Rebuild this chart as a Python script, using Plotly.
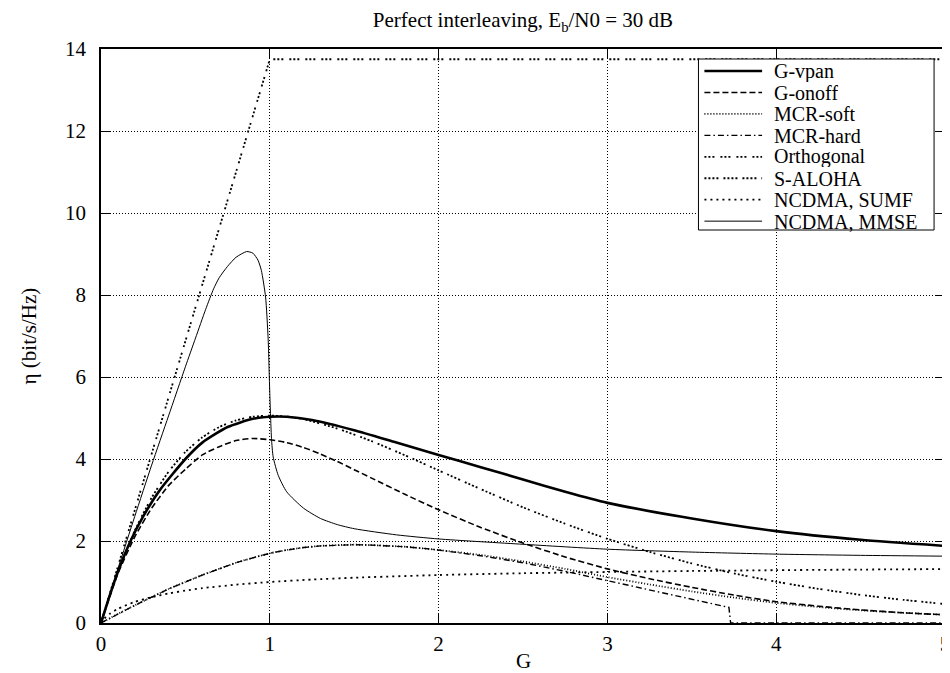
import plotly.graph_objects as go

# ---------------- data ----------------
g_vpan_x = [0, 0.05, 0.1, 0.175, 0.25, 0.35, 0.5, 0.6, 0.75, 0.9, 1.0, 1.1, 1.25, 1.5, 1.75, 2.0,
            2.25, 2.5, 2.75, 3.0, 3.5, 4.0, 4.5, 5.0]
g_vpan_y = [0, 0.65, 1.25, 2.0, 2.6, 3.25, 4.0, 4.4, 4.78, 4.98, 5.03, 5.03, 4.95, 4.7, 4.4, 4.1,
            3.8, 3.5, 3.2, 2.93, 2.55, 2.24, 2.03, 1.88]

g_onoff_x = [0, 0.1, 0.2, 0.3, 0.4, 0.5, 0.6, 0.7, 0.8, 0.9, 1.0, 1.1, 1.2, 1.3, 1.4, 1.5, 1.6,
             1.8, 2.0, 2.25, 2.5, 2.75, 3.0, 3.25, 3.5, 3.75, 4.0, 4.25, 4.5, 4.75, 5.0]
g_onoff_y = [0, 1.2, 2.1, 2.8, 3.35, 3.75, 4.1, 4.3, 4.45, 4.5, 4.47, 4.4, 4.28, 4.12, 3.94,
             3.74, 3.54, 3.14, 2.76, 2.33, 1.95, 1.61, 1.32, 1.08, 0.87, 0.68, 0.52, 0.41, 0.32,
             0.25, 0.2]

mcr_soft_x = [0, 0.1, 0.2, 0.3, 0.4, 0.5, 0.6, 0.7, 0.8, 0.9, 1.0, 1.1, 1.2, 1.3, 1.4, 1.5, 1.6,
              1.8, 2.0, 2.25, 2.5, 2.75, 3.0, 3.25, 3.5, 3.75, 4.0, 4.25, 4.5, 4.75, 5.0]
mcr_soft_y = [0, 0.22, 0.43, 0.63, 0.83, 1.0, 1.17, 1.32, 1.47, 1.59, 1.7, 1.78, 1.84, 1.88, 1.9,
              1.91, 1.9, 1.86, 1.78, 1.66, 1.5, 1.32, 1.12, 0.94, 0.77, 0.62, 0.49, 0.39, 0.31,
              0.25, 0.2]

mcr_hard_x = [0, 0.1, 0.2, 0.3, 0.4, 0.5, 0.6, 0.7, 0.8, 0.9, 1.0, 1.1, 1.2, 1.3, 1.4, 1.5, 1.6,
              1.7, 1.8, 1.9, 2.0, 2.25, 2.5, 2.75, 3.0, 3.25, 3.5, 3.72, 3.73, 4.0, 5.0]
mcr_hard_y = [0, 0.22, 0.43, 0.63, 0.83, 1.0, 1.17, 1.32, 1.47, 1.59, 1.7, 1.78, 1.84, 1.88, 1.9,
              1.91, 1.9, 1.885, 1.86, 1.825, 1.78, 1.64, 1.47, 1.26, 1.03, 0.8, 0.58, 0.38, 0.0,
              0.0, 0.0]

orth_x = [0, 1.0, 5.0]
orth_y = [0, 13.75, 13.75]

aloha_x = [0, 0.05, 0.1, 0.2, 0.3, 0.4, 0.5, 0.6, 0.7, 0.8, 0.9, 1.0, 1.1, 1.2, 1.4, 1.6, 1.8, 2.0,
           2.25, 2.5, 2.75, 3.0, 3.25, 3.5, 3.75, 4.0, 4.25, 4.5, 4.75, 5.0]
aloha_y = [0, 0.654, 1.244, 2.252, 3.056, 3.687, 4.17, 4.528, 4.78, 4.942, 5.031, 5.058, 5.036,
           4.97, 4.743, 4.441, 4.092, 3.722, 3.265, 2.822, 2.42, 2.053, 1.734, 1.453, 1.209,
           1.007, 0.833, 0.687, 0.566, 0.463]

sumf_x = [0, 0.02, 0.05, 0.1, 0.2, 0.3, 0.4, 0.5, 0.6, 0.8, 1.0, 1.25, 1.5, 2.0, 2.5, 3.0, 3.5,
          4.0, 4.5, 5.0]
sumf_y = [0, 0.11, 0.22, 0.345, 0.515, 0.63, 0.72, 0.79, 0.85, 0.935, 1.0, 1.06, 1.105, 1.17,
          1.214, 1.245, 1.269, 1.288, 1.303, 1.315]

mmse_x = [0, 0.1, 0.2, 0.3, 0.4, 0.5, 0.56, 0.62, 0.667, 0.7, 0.75, 0.8, 0.863, 0.9, 0.93, 0.95,
          0.975, 0.99, 1.0, 1.01, 1.02, 1.05, 1.1, 1.2, 1.3, 1.4, 1.5, 1.75, 2.0, 2.5, 3.0, 3.5,
          4.0, 4.5, 5.0]
mmse_y = [0, 1.32, 2.6, 3.85, 5.05, 6.25, 6.95, 7.65, 8.15, 8.42, 8.7, 8.92, 9.06, 9.02, 8.85,
          8.6, 7.95, 6.95, 5.6, 4.5, 4.05, 3.6, 3.2, 2.8, 2.55, 2.4, 2.3, 2.15, 2.05, 1.92, 1.8,
          1.73, 1.68, 1.65, 1.63]

x_ticks = [0, 1, 2, 3, 4, 5]
y_ticks = [0, 2, 4, 6, 8, 10, 12, 14]

names = ["G-vpan", "G-onoff", "MCR-soft", "MCR-hard", "Orthogonal", "S-ALOHA",
         "NCDMA, SUMF", "NCDMA, MMSE"]
xs_all = [g_vpan_x, g_onoff_x, mcr_soft_x, mcr_hard_x, orth_x, aloha_x, sumf_x, mmse_x]
ys_all = [g_vpan_y, g_onoff_y, mcr_soft_y, mcr_hard_y, orth_y, aloha_y, sumf_y, mmse_y]

title_text = "Perfect interleaving, E<sub>b</sub>/N0 = 30 dB"
x_title = "G"
y_title = "η (bit/s/Hz)"

# ---------------- styling ----------------
FONT = "Liberation Serif, Times New Roman, serif"
FS = 21
W_FIG, H_FIG = 950, 673
L, R, T, B = 93, 8, 41, 58
PW, PH = W_FIG - L - R, H_FIG - T - B

styles = [
    dict(width=2.6, dash="solid"),
    dict(width=1.6, dash="6px,3px"),
    dict(width=1.8, dash="1px,2px"),
    dict(width=1.4, dash="6px,3px,1.5px,3px"),
    dict(width=1.8, dash="2px,2px,2px,2px,2px,6px"),
    dict(width=1.8, dash="2px,2px,2px,2px,2px,2px,2px,5px"),
    dict(width=1.8, dash="2px,4px"),
    dict(width=1.0, dash="solid"),
]
shapes_kind = ["spline", "spline", "spline", "linear", "linear", "spline", "spline", "spline"]

fig = go.Figure()
for name, xs, ys, ln, sh in zip(names, xs_all, ys_all, styles, shapes_kind):
    line = dict(color="black", shape=sh, **ln)
    if sh == "spline":
        line["smoothing"] = 0.6
    fig.add_trace(go.Scatter(x=xs, y=ys, mode="lines", name=name, line=line, showlegend=False))


def px_x(px):
    return (px - L) / PW


def px_y(py):
    return (H_FIG - B - py) / PH


# ---------------- legend (drawn in paper space) ----------------
LEG_L, LEG_R, LEG_T, LEG_B = 694, 931, 51, 222
ROW0, ROW_H = 63, 21.45
SAMPLE_X0, SAMPLE_X1, TEXT_X = 700, 758, 768
LEG_FS = 20

shapes = [dict(type="rect", xref="paper", yref="paper", layer="above",
               x0=px_x(LEG_L), x1=px_x(LEG_R), y0=px_y(LEG_B), y1=px_y(LEG_T),
               line=dict(color="black", width=1), fillcolor="white")]
annotations = []
for i, (name, ln) in enumerate(zip(names, styles)):
    yy = px_y(ROW0 + i * ROW_H)
    shapes.append(dict(type="line", xref="paper", yref="paper", layer="above",
                       x0=px_x(SAMPLE_X0), x1=px_x(SAMPLE_X1), y0=yy, y1=yy,
                       line=dict(color="black", width=ln["width"], dash=ln["dash"])))
    annotations.append(dict(text=name, xref="paper", yref="paper", x=px_x(TEXT_X), y=yy,
                            xanchor="left", yanchor="middle", showarrow=False, height=21,
                            font=dict(family=FONT, size=LEG_FS, color="black")))

# axis titles
annotations.append(dict(text=x_title, xref="paper", yref="paper", x=0.5, y=px_y(653),
                        xanchor="center", yanchor="middle", showarrow=False, height=20,
                        borderpad=0,
                        font=dict(family=FONT, size=FS, color="black")))
annotations.append(dict(text=y_title, xref="paper", yref="paper", x=px_x(21), y=0.5,
                        xanchor="center", yanchor="middle", showarrow=False, textangle=-90,
                        font=dict(family=FONT, size=FS, color="black")))

axis_common = dict(
    showline=True, linecolor="black", linewidth=1.5, mirror="ticks",
    ticks="inside", ticklen=9, tickwidth=1, tickcolor="black",
    showgrid=True, gridcolor="black", gridwidth=1, griddash="1px,2px",
    zeroline=False, tickfont=dict(family=FONT, size=FS, color="black"),
    ticklabeloverflow="allow",
)

fig.update_xaxes(range=[0, 5], tickvals=x_ticks, ticktext=[str(v) for v in x_ticks],
                 ticklabelstandoff=1, **axis_common)
fig.update_yaxes(range=[0, 14], tickvals=y_ticks, ticktext=[str(v) for v in y_ticks],
                 ticklabelstandoff=9, **axis_common)

fig.update_layout(
    width=W_FIG, height=H_FIG,
    margin=dict(l=L, r=R, t=T, b=B),
    paper_bgcolor="white", plot_bgcolor="white",
    font=dict(family=FONT, size=FS, color="black"),
    title=dict(text=title_text, x=0.5, xref="paper",
               xanchor="center", y=1 - 12 / H_FIG, yref="container", yanchor="middle",
               font=dict(family=FONT, size=FS, color="black")),
    shapes=shapes,
    annotations=annotations,
    showlegend=False,
)

fig.write_html("out.html")
